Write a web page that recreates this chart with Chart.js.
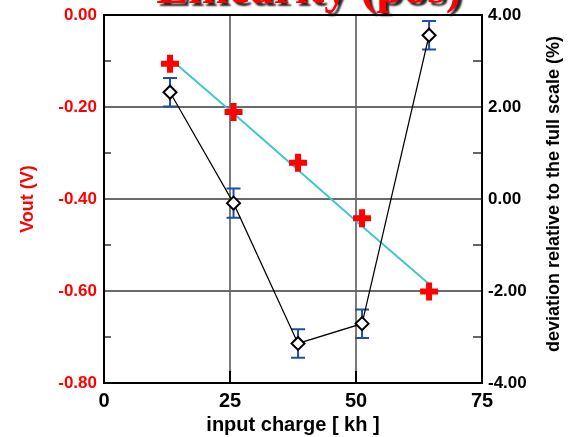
<!DOCTYPE html>
<html>
<head>
<meta charset="utf-8">
<script src="https://cdn.jsdelivr.net/npm/chart.js@4.4.1/dist/chart.umd.min.js"></script>
<style>
  html, body { margin: 0; padding: 0; background: #fff; }
</style>
</head>
<body>
<canvas id="linChart" width="573" height="437"></canvas>
<script>
// measured points: input charge vs output voltage and deviation from the fit
const charge = [13.1, 25.7, 38.5, 51.2, 64.5];
const vout = [-0.106, -0.211, -0.321, -0.442, -0.601];
const voutFit = [-0.095, -0.214, -0.337, -0.459, -0.585];
const deviation = [2.32, -0.09, -3.14, -2.71, 3.56];
const deviationErr = [0.31, 0.32, 0.31, 0.31, 0.31];
const voutMinor = [-0.1, -0.3, -0.5, -0.7];
const devMinor = [3, 1, -1, -3];
const chargeMajor = [25, 50];

const pts = (xs, ys) => xs.map((x, i) => ({ x: x, y: ys[i] }));

Chart.defaults.font.family = 'Arial, "Liberation Sans", sans-serif';
Chart.defaults.font.weight = 'bold';

// frame around the plot plus the short inner tick marks
const framePlugin = {
    id: 'frame',
    beforeDatasetsDraw(chart) {
        const { ctx, chartArea: a, scales } = chart;
        ctx.save();
        ctx.strokeStyle = '#333';
        ctx.lineWidth = 1.5;
        voutMinor.forEach(v => {
            const y = scales.y.getPixelForValue(v);
            ctx.beginPath(); ctx.moveTo(a.left, y); ctx.lineTo(a.left + 7, y); ctx.stroke();
        });
        devMinor.forEach(v => {
            const y = scales.y2.getPixelForValue(v);
            ctx.beginPath(); ctx.moveTo(a.right - 9, y); ctx.lineTo(a.right, y); ctx.stroke();
        });
        ctx.strokeStyle = '#000';
        ctx.lineWidth = 2;
        chargeMajor.forEach(v => {
            const x = scales.x.getPixelForValue(v);
            ctx.beginPath(); ctx.moveTo(x, a.bottom - 12); ctx.lineTo(x, a.bottom); ctx.stroke();
        });
        ctx.strokeRect(a.left, a.top, a.right - a.left, a.bottom - a.top);
        ctx.restore();
    }
};

// vertical error bars on the deviation points
const errorBarPlugin = {
    id: 'errorBars',
    beforeDatasetsDraw(chart) {
        const { ctx, scales } = chart;
        ctx.save();
        ctx.strokeStyle = '#1f4fa6';
        ctx.lineWidth = 2;
        charge.forEach((c, i) => {
            const x = scales.x.getPixelForValue(c);
            const yHi = scales.y2.getPixelForValue(deviation[i] + deviationErr[i]);
            const yLo = scales.y2.getPixelForValue(deviation[i] - deviationErr[i]);
            ctx.beginPath();
            ctx.moveTo(x, yHi); ctx.lineTo(x, yLo);
            ctx.moveTo(x - 7, yHi); ctx.lineTo(x + 7, yHi);
            ctx.moveTo(x - 7, yLo); ctx.lineTo(x + 7, yLo);
            ctx.stroke();
        });
        ctx.restore();
    }
};

// big red heading and the right-hand axis title (reads bottom to top)
const textPlugin = {
    id: 'extraText',
    afterDraw(chart) {
        const { ctx, chartArea: a } = chart;
        ctx.save();
        ctx.font = 'bold 48px "Times New Roman", "Liberation Serif", serif';
        ctx.textAlign = 'center';
        ctx.textBaseline = 'alphabetic';
        ctx.shadowColor = 'rgba(0,0,0,0.85)';
        ctx.shadowOffsetX = 3;
        ctx.shadowOffsetY = 3;
        ctx.shadowBlur = 2;
        ctx.fillStyle = '#ff0000';
        ctx.fillText('Linearity (pos)', 309, 3);
        ctx.restore();

        ctx.save();
        ctx.font = 'bold 18px Arial, "Liberation Sans", sans-serif';
        ctx.fillStyle = '#000';
        ctx.textAlign = 'center';
        ctx.textBaseline = 'middle';
        ctx.translate(554, (a.top + a.bottom) / 2 - 5);
        ctx.rotate(-Math.PI / 2);
        ctx.fillText('deviation relative to the full scale (%)', 0, 0);
        ctx.restore();
    }
};

const endGrid = (lo, hi, color) => c =>
    (c.tick && (c.tick.value === lo || c.tick.value === hi)) ? 'rgba(0,0,0,0)' : color;

// keep the tick labels from pushing the plot area down
const noLabelPad = s => { s.paddingTop = 0; s.paddingBottom = 0; };

new Chart(document.getElementById('linChart'), {
    type: 'line',
    data: {
        datasets: [
            {
                label: 'fit',
                data: pts(charge, voutFit),
                yAxisID: 'y',
                borderColor: '#3ec9c9',
                borderWidth: 2,
                pointRadius: 0,
                fill: false,
                order: 3
            },
            {
                label: 'deviation',
                data: pts(charge, deviation),
                yAxisID: 'y2',
                borderColor: '#000',
                borderWidth: 1.2,
                pointStyle: 'rectRot',
                pointRadius: 6.5,
                pointBorderWidth: 2,
                pointBorderColor: '#000',
                pointBackgroundColor: '#fff',
                fill: false,
                order: 2
            },
            {
                label: 'Vout',
                data: pts(charge, vout),
                yAxisID: 'y',
                showLine: false,
                pointStyle: 'cross',
                pointRadius: 9,
                pointBorderWidth: 6,
                pointBorderColor: '#ff0000',
                order: 1
            }
        ]
    },
    options: {
        responsive: false,
        animation: false,
        devicePixelRatio: 1,
        layout: { padding: { top: 11, left: 0, right: 0, bottom: 0 } },
        plugins: {
            legend: { display: false },
            tooltip: { enabled: false }
        },
        scales: {
            x: {
                type: 'linear',
                position: 'bottom',
                min: 0,
                max: 75,
                afterFit: s => { s.height = 54; },
                ticks: {
                    stepSize: 25,
                    padding: 6,
                    color: '#000',
                    font: { size: 20, weight: 'bold' }
                },
                grid: {
                    drawTicks: false,
                    color: endGrid(0, 75, '#7a7a7a'),
                    lineWidth: 2
                },
                border: { color: '#000', width: 2 },
                title: {
                    display: true,
                    text: 'input charge [ kh ]',
                    color: '#000',
                    font: { size: 20, weight: 'bold' },
                    padding: { top: 0, bottom: 0 }
                }
            },
            y: {
                position: 'left',
                min: -0.8,
                max: 0,
                afterFit: s => { s.width = 104; noLabelPad(s); },
                ticks: {
                    stepSize: 0.2,
                    padding: 7,
                    color: '#ff0000',
                    font: { size: 17, weight: 'bold' },
                    callback: v => v.toFixed(2)
                },
                grid: {
                    drawTicks: false,
                    color: endGrid(-0.8, 0, '#6a6a6a'),
                    lineWidth: 2
                },
                border: { color: '#000', width: 2 },
                title: {
                    display: true,
                    text: 'Vout (V)',
                    color: '#ff0000',
                    font: { size: 18, weight: 'bold' },
                    padding: { top: 17, bottom: 0 }
                }
            },
            y2: {
                position: 'right',
                min: -4,
                max: 4,
                afterFit: s => { s.width = 91; noLabelPad(s); },
                ticks: {
                    stepSize: 2,
                    padding: 6,
                    color: '#000',
                    font: { size: 17, weight: 'bold' },
                    callback: v => v.toFixed(2)
                },
                grid: { drawTicks: false, drawOnChartArea: false },
                border: { color: '#000', width: 2 }
            }
        }
    },
    plugins: [framePlugin, errorBarPlugin, textPlugin]
});
</script>
</body>
</html>
